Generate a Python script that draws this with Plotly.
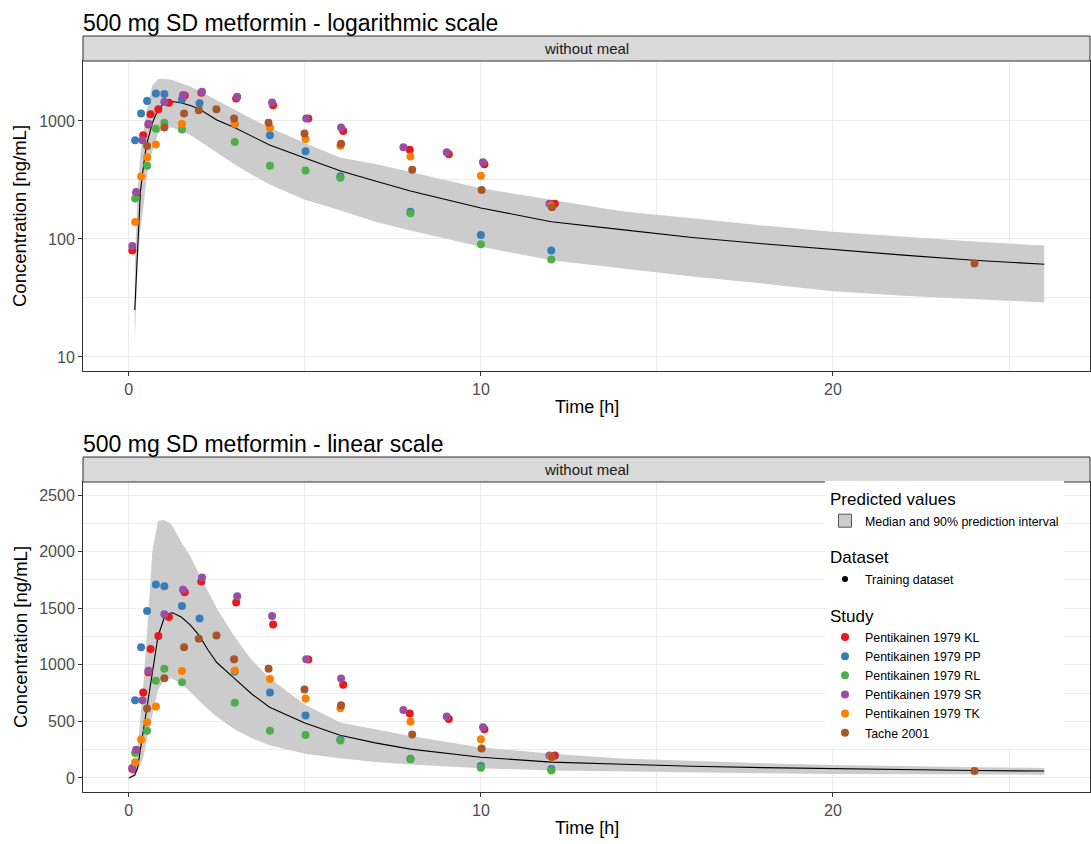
import plotly.graph_objects as go

# ---------------- data ----------------
sim_time = [0, 0.17, 0.25, 0.33, 0.42, 0.5, 0.67, 0.83, 1.0, 1.17, 1.25, 1.5, 1.75, 2.0,
            2.25, 2.5, 3.0, 3.5, 4.0, 5.0, 6.0, 7.0, 8.0, 10.0, 12.0, 14.0, 16.0, 18.0,
            20.0, 22.0, 24.0, 26.0]
sim_median = [0, 25, 90, 250, 420, 620, 960, 1250, 1410, 1455, 1460, 1420, 1350, 1260,
              1130, 1020, 880, 740, 625, 485, 378, 310, 255, 183, 140, 120, 103, 91,
              81, 73, 66, 61]
sim_upper = [0, 60, 250, 520, 850, 1200, 2000, 2270, 2280, 2250, 2220, 2080, 1960, 1800,
             1650, 1500, 1250, 1040, 880, 650, 490, 432, 370, 269, 215, 172, 150, 130,
             115, 104, 95, 88]
sim_lower = [0, 13, 60, 120, 190, 320, 560, 780, 860, 880, 875, 830, 760, 680,
             610, 540, 430, 350, 290, 215, 175, 140, 118, 86, 66, 56, 48, 42,
             36, 33, 31, 29]

studies = ["Pentikainen 1979 KL", "Pentikainen 1979 PP", "Pentikainen 1979 RL",
           "Pentikainen 1979 SR", "Pentikainen 1979 TK", "Tache 2001"]
study_colors = ["#E41A1C", "#377EB8", "#4DAF4A", "#984EA3", "#FF7F00", "#A65628"]

kl_time = [0.1, 0.22, 0.41, 0.56, 0.62, 0.84, 1.14, 1.59, 2.06, 3.05, 4.1, 5.1, 6.09,
           7.98, 9.09, 10.1, 12.1]
kl_conc = [80, 244, 755, 935, 1140, 1255, 1423, 1640, 1736, 1550, 1357, 1047, 823,
           570, 522, 430, 199]
pp_time = [0.18, 0.35, 0.52, 0.77, 1.01, 1.51, 2.01, 3.01, 4.01, 5.02, 6.01, 8.0, 10.0, 12.0]
pp_conc = [686, 1155, 1475, 1710, 1693, 1520, 1410, 940, 755, 553, 340, 170, 108, 80]
rl_time = [0.18, 0.52, 0.77, 1.01, 1.51, 3.01, 4.01, 5.02, 6.01, 8.0, 10.0, 12.0]
rl_conc = [220, 417, 860, 965, 846, 664, 417, 380, 330, 165, 90, 67]
sr_time = [0.1, 0.21, 0.39, 0.56, 1.01, 1.54, 2.08, 3.08, 4.07, 5.04, 6.03, 7.8, 9.03,
           10.06, 11.95]
sr_conc = [87, 250, 686, 948, 1447, 1663, 1772, 1605, 1430, 1048, 879, 600, 544, 447, 199]
tk_time = [0.18, 0.35, 0.52, 0.77, 1.51, 3.01, 4.01, 5.02, 6.01, 8.0, 10.0, 12.0]
tk_conc = [139, 339, 492, 631, 946, 950, 875, 702, 615, 500, 343, 190]
ta_time = [0.52, 1.01, 1.57, 1.99, 2.49, 2.99, 3.97, 4.99, 6.03, 8.05, 10.02, 12.02, 24.02]
ta_conc = [614, 882, 1154, 1230, 1258, 1048, 964, 782, 642, 385, 260, 186, 62]

study_times = [kl_time, pp_time, rl_time, sr_time, tk_time, ta_time]
study_concs = [kl_conc, pp_conc, rl_conc, sr_conc, tk_conc, ta_conc]

x_ticks = [0, 10, 20]
log_ticks = [10, 100, 1000]
lin_ticks = [0, 500, 1000, 1500, 2000, 2500]

# ---------------- layout geometry ----------------
W, H = 1091, 844
FONT = "Liberation Sans, Arial, sans-serif"


def py(px):
    return 1 - px / H


def pxx(px):
    return px / W


PLOT_L, PLOT_R = 83, 1090
TOP_Y0, TOP_Y1 = 61, 371
BOT_Y0, BOT_Y1 = 482, 792
STRIP_H = 25
GTITLE = dict(size=17, color="black", family=FONT)

fig = go.Figure()

panels = [("x", "y", "log"), ("x2", "y2", "lin")]
for xa, ya, kind in panels:
    show = kind == "lin"
    if kind == "log":
        keep = [i for i, v in enumerate(sim_lower) if v > 0]
        t = [sim_time[i] for i in keep]
        lo = [sim_lower[i] for i in keep]
        up = [sim_upper[i] for i in keep]
        md = [sim_median[i] for i in keep]
    else:
        t, lo, up, md = sim_time, sim_lower, sim_upper, sim_median
    fig.add_trace(go.Scatter(x=t, y=lo, mode="lines", line=dict(width=0, color="#CCCCCC"),
                             xaxis=xa, yaxis=ya, showlegend=False, hoverinfo="skip",
                             legendgroup="pred"))
    fig.add_trace(go.Scatter(x=t, y=up, mode="lines", line=dict(width=0, color="#CCCCCC"),
                             fill="tonexty", fillcolor="#CCCCCC",
                             xaxis=xa, yaxis=ya, showlegend=False, legendgroup="pred"))
    fig.add_trace(go.Scatter(x=t, y=md, mode="lines", line=dict(width=1.1, color="black"),
                             xaxis=xa, yaxis=ya, showlegend=False, legendgroup="pred"))
    if show:
        # legend keys only
        fig.add_trace(go.Scatter(x=[None], y=[None], mode="markers",
                                 marker=dict(size=13, symbol="square", color="#CCCCCC",
                                             line=dict(color="#555555", width=1)),
                                 xaxis=xa, yaxis=ya,
                                 name="Median and 90% prediction interval",
                                 legendgroup="pred", legendrank=1,
                                 legendgrouptitle=dict(text="Predicted values", font=GTITLE)))
        fig.add_trace(go.Scatter(x=[None], y=[None], mode="markers",
                                 marker=dict(size=6, color="black"),
                                 xaxis=xa, yaxis=ya, name="Training dataset",
                                 legendgroup="ds", legendrank=2,
                                 legendgrouptitle=dict(text="Dataset", font=GTITLE)))
    for k, (name, col) in enumerate(zip(studies, study_colors)):
        fig.add_trace(go.Scatter(x=study_times[k], y=study_concs[k], mode="markers",
                                 marker=dict(size=8, color=col),
                                 xaxis=xa, yaxis=ya, name=name, showlegend=show,
                                 legendgroup="study", legendrank=3 + k,
                                 legendgrouptitle=dict(text="Study", font=GTITLE)))

axis_common = dict(showgrid=True, gridcolor="#EBEBEB", gridwidth=1, zeroline=False,
                   showline=True, mirror=True, linecolor="#333333", linewidth=1,
                   ticks="outside", ticklen=4, tickcolor="#333333",
                   tickfont=dict(size=16, color="#4D4D4D", family=FONT), automargin=False)

x_range = [-1.3, 27.3]
minor_x = dict(dtick=5, tick0=0, showgrid=True, gridcolor="#EBEBEB", gridwidth=1)
fig.update_layout(
    width=W, height=H, margin=dict(l=0, r=0, t=0, b=0), autosize=False,
    plot_bgcolor="white", paper_bgcolor="white",
    font=dict(family=FONT, color="black"),
    xaxis=dict(domain=[pxx(PLOT_L), pxx(PLOT_R)], anchor="y", range=x_range,
               tickvals=x_ticks, minor=minor_x, **axis_common),
    yaxis=dict(domain=[py(TOP_Y1), py(TOP_Y0)], anchor="x", type="log",
               range=[0.881, 3.508], tickvals=log_ticks,
               ticktext=[str(v) for v in log_ticks],
               minor=dict(tickvals=[10 ** 1.5, 10 ** 2.5, 10 ** 3.5], showgrid=True,
                          gridcolor="#EBEBEB", gridwidth=1),
               **axis_common),
    xaxis2=dict(domain=[pxx(PLOT_L), pxx(PLOT_R)], anchor="y2", range=x_range,
                tickvals=x_ticks, minor=minor_x, **axis_common),
    yaxis2=dict(domain=[py(BOT_Y1), py(BOT_Y0)], anchor="x2", range=[-124, 2615],
                tickvals=lin_ticks,
                minor=dict(dtick=250, tick0=0, showgrid=True,
                           gridcolor="#EBEBEB", gridwidth=1),
                **axis_common),
    legend=dict(x=pxx(825), y=py(481), xanchor="left", yanchor="top",
                bgcolor="white", borderwidth=0, traceorder="grouped",
                tracegroupgap=14, font=dict(size=12.4, color="black", family=FONT),
                itemsizing="trace", itemwidth=30),
    showlegend=True,
)

shapes = []
annotations = []
for (y0, y1, title) in [(TOP_Y0, TOP_Y1, "500 mg SD metformin - logarithmic scale"),
                        (BOT_Y0, BOT_Y1, "500 mg SD metformin - linear scale")]:
    shapes.append(dict(type="rect", xref="paper", yref="paper",
                       x0=pxx(PLOT_L), x1=pxx(PLOT_R), y0=py(y0), y1=py(y0 - STRIP_H),
                       fillcolor="#D9D9D9", line=dict(color="#333333", width=1),
                       layer="above"))
    annotations.append(dict(text="without meal", xref="paper", yref="paper",
                            x=pxx((PLOT_L + PLOT_R) / 2), y=py(y0 - STRIP_H / 2),
                            xanchor="center", yanchor="middle", showarrow=False,
                            font=dict(size=15, color="#1A1A1A")))
    annotations.append(dict(text=title, xref="paper", yref="paper",
                            x=pxx(PLOT_L - 2), y=py(y0 - STRIP_H - 13),
                            xanchor="left", yanchor="middle", showarrow=False,
                            font=dict(size=23, color="black")))
    annotations.append(dict(text="Time [h]", xref="paper", yref="paper",
                            x=pxx((PLOT_L + PLOT_R) / 2), y=py(y1 + 36),
                            xanchor="center", yanchor="middle", showarrow=False,
                            font=dict(size=18, color="black")))
    annotations.append(dict(text="Concentration [ng/mL]", xref="paper", yref="paper",
                            x=pxx(20), y=py((y0 + y1) / 2), textangle=-90,
                            xanchor="center", yanchor="middle", showarrow=False,
                            font=dict(size=18.5, color="black")))

fig.update_layout(shapes=shapes, annotations=annotations)
fig.write_html("out.html")
